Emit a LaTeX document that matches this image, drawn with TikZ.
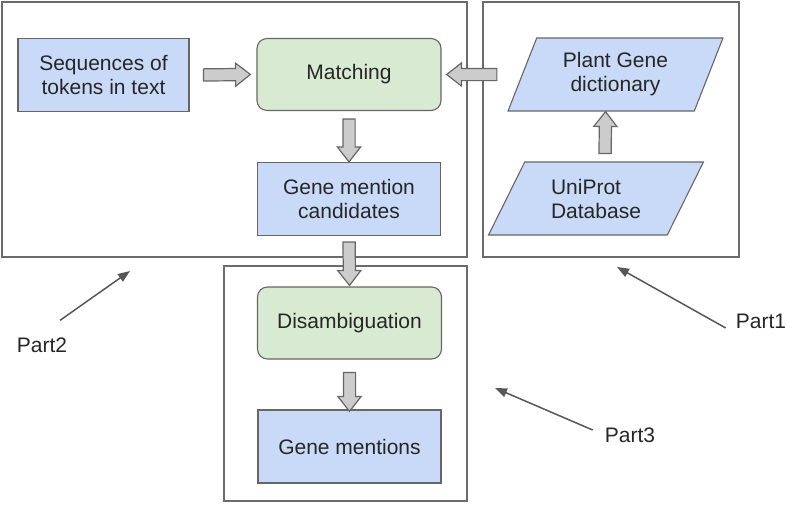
\documentclass[tikz,border=0pt]{standalone}
\usepackage{fontspec}
\setmainfont{Liberation Sans}
\usetikzlibrary{shapes.geometric,shapes.arrows,calc,arrows.meta}

\definecolor{boxblue}{HTML}{C9DAF8}
\definecolor{boxgreen}{HTML}{D9EAD3}
\definecolor{boxline}{HTML}{666666}
\definecolor{framegray}{HTML}{6B6B6B}
\definecolor{fatfill}{HTML}{CCCCCC}
\definecolor{fatline}{HTML}{666666}

\newcommand{\fatarrow}[2]{%
  \path let \p1=(#1), \p2=(#2),
    \n1={veclen(\x2-\x1,\y2-\y1)}, \n2={atan2(\y2-\y1,\x2-\x1)} in
    node[fat, minimum height=\n1, rotate=\n2] at ($(\p1)!0.5!(\p2)$) {};}

\begin{document}
\begin{tikzpicture}[x=1pt,y=-1pt,
    font=\fontsize{21}{24}\selectfont,
    frame/.style={draw=framegray,line width=2pt},
    fat/.style={single arrow,draw=fatline,fill=fatfill,line width=1.2pt,
      inner xsep=0pt,inner ysep=5.5pt,single arrow head extend=5.5pt,
      single arrow tip angle=76},
    pointer/.style={draw=fatline!85!black,line width=1.5pt,
      -{Triangle[length=12pt,width=9pt]}}]

      \useasboundingbox (0,0) rectangle (787,504);

      \draw[frame] (2,2) rectangle (467,257);
      \draw[frame] (483,2) rectangle (739,257);
      \draw[frame] (224,266) rectangle (467,501);

      \begin{scope}[every node/.style={draw=boxline,line width=1.1pt,fill=boxblue,
          align=center,minimum width=183pt,minimum height=73pt,text=black!85}]
        \node (seq)      at (103.5,75)   [minimum width=171pt] {Sequences of\\tokens in text};
        \node (cand)     at (349,199)    {Gene mention\\candidates};
        \node (mentions) at (349.5,446.5) {Gene mentions};
      \end{scope}

      \begin{scope}[every node/.style={draw=boxline,line width=1.1pt,fill=boxgreen,
          rounded corners=10pt,minimum width=184pt,minimum height=72pt,text=black!85}]
        \node (match)  at (349,74.5)  {Matching};
        \node (disamb) at (349.5,323) {Disambiguation};
      \end{scope}

      \begin{scope}[every node/.style={draw=boxline,line width=1.1pt,fill=boxblue,
          trapezium,trapezium stretches=true,minimum width=215pt,minimum height=73pt,
          align=center,text=black!85}]
        \node (plant)   at (615.5,74.5) [trapezium left angle=68,trapezium right angle=112] {Plant Gene\\dictionary};
        \node (uniprot) at (596,198.5)  [trapezium left angle=62,trapezium right angle=118,align=left] {UniProt\\Database};
      \end{scope}

      \fatarrow{[xshift=10pt]seq.east}{[xshift=-10pt]match.west}
      \fatarrow{[xshift=-21pt]plant.west}{[xshift=9pt]match.east}
      \fatarrow{[yshift=-4pt]match.south}{[yshift=4pt]cand.north}
      \fatarrow{[xshift=9pt,yshift=4pt]uniprot.north}{[xshift=-10pt,yshift=-4pt]plant.south}
      \fatarrow{[yshift=-2pt]cand.south}{[yshift=5pt]disamb.north}
      \fatarrow{[yshift=-9pt]disamb.south}{[yshift=2pt]mentions.north}

      \begin{scope}[every node/.style={inner sep=2pt,text=black!85}]
        \node (p1lab) at (761,321) {Part1};
        \node (p2lab) at (42,345)  {Part2};
        \node (p3lab) at (630,435) {Part3};
      \end{scope}

      \coordinate (p1tip) at (617,267);
      \coordinate (p2tip) at (130,271);
      \coordinate (p3tip) at (495,388);

      \draw[pointer] ([xshift=-8pt,yshift=-7pt]p1lab.west) -- (p1tip);
      \draw[pointer] ([xshift=18pt,yshift=15pt]p2lab.north) -- (p2tip);
      \draw[pointer] ([xshift=-10pt,yshift=5pt]p3lab.west) -- (p3tip);

    \end{tikzpicture}
\end{document}
